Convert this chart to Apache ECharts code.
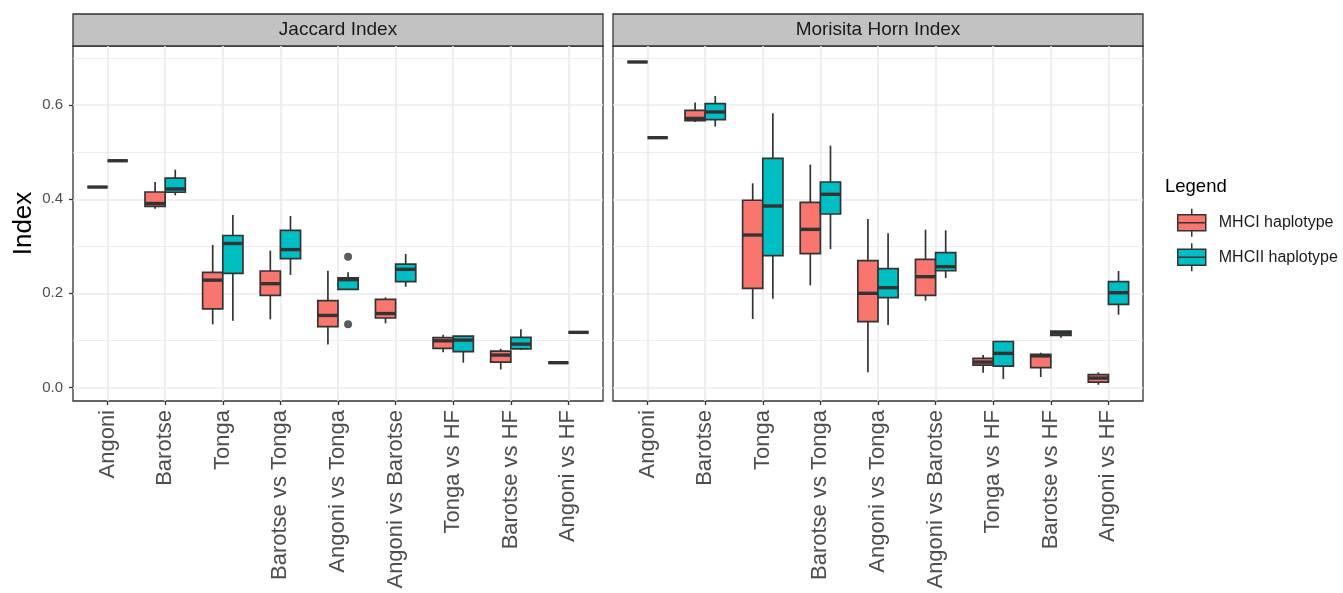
<!DOCTYPE html>
<html>
<head>
<meta charset="utf-8">
<script src="https://cdn.jsdelivr.net/npm/echarts@6/dist/echarts.min.js"></script>
<style>
html,body{margin:0;padding:0;background:#ffffff;}
#chart{width:1343px;height:593px;}
</style>
</head>
<body>
<div id="chart"></div>
<script>
// ---------------- data ----------------
const categories = ['Angoni', 'Barotse', 'Tonga', 'Barotse vs Tonga', 'Angoni vs Tonga',
  'Angoni vs Barotse', 'Tonga vs HF', 'Barotse vs HF', 'Angoni vs HF'];
const panelTitles = ['Jaccard Index', 'Morisita Horn Index'];
const seriesNames = ['MHCI haplotype', 'MHCII haplotype'];
const yTickValues = [0, 0.2, 0.4, 0.6];
const yAxisTitle = 'Index';
const legendTitle = 'Legend';

// each entry: [lower whisker, Q1, median, Q3, upper whisker]
const jaccardMHCI = [
  [0.426, 0.426, 0.426, 0.426, 0.426],
  [0.380, 0.385, 0.391, 0.4155, 0.437],
  [0.134, 0.167, 0.228, 0.2446, 0.303],
  [0.1446, 0.1957, 0.2205, 0.2475, 0.2907],
  [0.0914, 0.129, 0.153, 0.1843, 0.248],
  [0.136, 0.1475, 0.157, 0.187, 0.1915],
  [0.0745, 0.083, 0.099, 0.1056, 0.112],
  [0.038, 0.0538, 0.0687, 0.0772, 0.082],
  [0.0524, 0.0524, 0.0524, 0.0524, 0.0524]
];
const jaccardMHCII = [
  [0.482, 0.482, 0.482, 0.482, 0.482],
  [0.4085, 0.415, 0.422, 0.445, 0.463],
  [0.1418, 0.2425, 0.306, 0.323, 0.3666],
  [0.239, 0.2737, 0.293, 0.334, 0.3645],
  [0.2085, 0.2085, 0.229, 0.233, 0.2446],
  [0.214, 0.2247, 0.251, 0.2623, 0.2836],
  [0.0524, 0.0758, 0.1006, 0.109, 0.109],
  [0.0794, 0.082, 0.092, 0.1064, 0.1234],
  [0.117, 0.117, 0.117, 0.117, 0.117]
];
const morisitaMHCI = [
  [0.692, 0.692, 0.692, 0.692, 0.692],
  [0.5645, 0.567, 0.572, 0.589, 0.6056],
  [0.1453, 0.2106, 0.324, 0.398, 0.434],
  [0.217, 0.2843, 0.336, 0.3936, 0.4737],
  [0.0319, 0.1396, 0.200, 0.2694, 0.358],
  [0.1843, 0.1957, 0.2354, 0.2723, 0.3354],
  [0.031, 0.0474, 0.0538, 0.0617, 0.0687],
  [0.022, 0.0418, 0.067, 0.0702, 0.0737],
  [0.0056, 0.0113, 0.0198, 0.0269, 0.0319]
];
const morisitaMHCII = [
  [0.531, 0.531, 0.531, 0.531, 0.531],
  [0.5545, 0.5694, 0.5857, 0.6035, 0.6198],
  [0.1886, 0.280, 0.3857, 0.487, 0.583],
  [0.294, 0.3687, 0.4106, 0.4368, 0.514],
  [0.1326, 0.1907, 0.212, 0.2524, 0.3277],
  [0.2326, 0.248, 0.2567, 0.2865, 0.334],
  [0.0177, 0.0453, 0.0723, 0.0975, 0.099],
  [0.1056, 0.1106, 0.1155, 0.1198, 0.1198],
  [0.1545, 0.1766, 0.2013, 0.2247, 0.2475]
];
// outliers (Jaccard panel, MHCII haplotype)
const outlierCategories = ['Angoni vs Tonga', 'Angoni vs Tonga'];
const outlierValues = [0.278, 0.134];

const panelData = [[jaccardMHCI, jaccardMHCII], [morisitaMHCI, morisitaMHCII]];

// ---------------- styling / layout ----------------
const COLORS = ['#F8766D', '#00BFC4'];
const LINE = '#333333';
const GRIDLINE = '#EBEBEB';
const FONT = 'Liberation Sans, Arial, Helvetica, sans-serif';
const DODGE = 0.7;            // width occupied by the pair of boxes (in category units)
const BOX_W = DODGE / 2;
const PANEL_LEFT = [73, 613];
const PANEL_TOP = 46;
const PANEL_W = 530;
const PANEL_H = 355;
const Y_MIN = -0.029, Y_MAX = 0.726;
const X_MIN = -0.6, X_MAX = categories.length - 1 + 0.6;

const catIdx = categories.map((c, i) => i);

function renderBox(params, api) {
  const x = api.value(0);
  const lo = api.value(1), q1 = api.value(2), med = api.value(3), q3 = api.value(4), hi = api.value(5);
  const w = api.size([BOX_W, 0])[0];
  const pHi = api.coord([x, hi]);
  const pQ3 = api.coord([x, q3]);
  const pMed = api.coord([x, med]);
  const pQ1 = api.coord([x, q1]);
  const pLo = api.coord([x, lo]);
  const cx = pMed[0];
  const fill = api.visual('color');
  return {
    type: 'group',
    children: [
      { type: 'line', shape: { x1: cx, y1: pHi[1], x2: cx, y2: pQ3[1] }, style: { stroke: LINE, lineWidth: 1.7 } },
      { type: 'line', shape: { x1: cx, y1: pQ1[1], x2: cx, y2: pLo[1] }, style: { stroke: LINE, lineWidth: 1.7 } },
      { type: 'rect', shape: { x: cx - w / 2, y: pQ3[1], width: w, height: pQ1[1] - pQ3[1] },
        style: { fill: fill, stroke: LINE, lineWidth: 1.7 } },
      { type: 'line', shape: { x1: cx - w / 2, y1: pMed[1], x2: cx + w / 2, y2: pMed[1] },
        style: { stroke: LINE, lineWidth: 3.4 } }
    ]
  };
}

const grids = [], xAxes = [], yAxes = [], series = [], titles = [], graphics = [];

panelTitles.forEach(function (pt, p) {
  grids.push({
    left: PANEL_LEFT[p], top: PANEL_TOP, width: PANEL_W, height: PANEL_H,
    show: true, backgroundColor: '#ffffff', borderColor: LINE, borderWidth: 1.3,
    containLabel: false, outerBoundsMode: 'none'
  });
  xAxes.push({
    type: 'value', gridIndex: p, min: X_MIN, max: X_MAX, position: 'bottom',
    axisLine: { show: false, onZero: false },
    axisTick: { show: true, length: 4, customValues: catIdx, lineStyle: { color: LINE, width: 1.3 } },
    axisLabel: {
      customValues: catIdx, rotate: 90, fontSize: 22, color: '#4D4D4D', margin: 9, fontFamily: FONT,
      formatter: function (v) { return categories[Math.round(v)]; }
    },
    splitLine: { show: true, lineStyle: { color: GRIDLINE, width: 1.6 } }
  });
  yAxes.push({
    type: 'value', gridIndex: p, min: Y_MIN, max: Y_MAX, minInterval: 0.2, maxInterval: 0.2, position: 'left',
    axisLine: { show: false, onZero: false },
    axisTick: { show: p === 0, length: 4, customValues: yTickValues, lineStyle: { color: LINE, width: 1.3 } },
    axisLabel: {
      show: p === 0, customValues: yTickValues, fontSize: 15, color: '#4D4D4D', margin: 10, fontFamily: FONT,
      formatter: function (v) { return v.toFixed(1); }
    },
    splitLine: { show: true, lineStyle: { color: GRIDLINE, width: 1.6 } },
    minorTick: { show: false, splitNumber: 2 },
    minorSplitLine: { show: true, lineStyle: { color: GRIDLINE, width: 0.9 } },
    name: p === 0 ? yAxisTitle : '', nameLocation: 'middle', nameRotate: 90, nameGap: 36,
    nameTextStyle: { fontSize: 26, color: '#000000', fontFamily: FONT }
  });
  panelData[p].forEach(function (arr, s) {
    series.push({
      type: 'custom', name: seriesNames[s], xAxisIndex: p, yAxisIndex: p,
      itemStyle: { color: COLORS[s] },
      encode: { x: 0, y: [1, 2, 3, 4, 5] },
      renderItem: renderBox,
      data: arr.map(function (d, i) { return [i + (s - 0.5) * BOX_W].concat(d); }),
      z: 3
    });
  });
  graphics.push({
    type: 'rect', z: 0,
    shape: { x: PANEL_LEFT[p], y: 14, width: PANEL_W, height: PANEL_TOP - 14 },
    style: { fill: '#C2C2C2', stroke: LINE, lineWidth: 1.3 }
  });
  titles.push({
    text: pt, left: PANEL_LEFT[p] + PANEL_W / 2, top: 20.5, textAlign: 'center', padding: 0,
    textStyle: { fontSize: 19, lineHeight: 19, fontWeight: 'normal', color: '#1A1A1A', fontFamily: FONT }
  });
});

series.push({
  type: 'scatter', name: 'outliers', xAxisIndex: 0, yAxisIndex: 0,
  symbolSize: 8, itemStyle: { color: LINE }, z: 4,
  data: outlierCategories.map(function (c, k) {
    return [categories.indexOf(c) + 0.5 * BOX_W, outlierValues[k]];
  })
});

titles.push({
  text: legendTitle, left: 1165, top: 178, padding: 0,
  textStyle: { fontSize: 18.5, lineHeight: 18, fontWeight: 'normal', color: '#000000', fontFamily: FONT }
});

const option = {
  animation: false,
  backgroundColor: '#ffffff',
  textStyle: { fontFamily: FONT },
  title: titles,
  graphic: graphics,
  grid: grids,
  xAxis: xAxes,
  yAxis: yAxes,
  legend: {
    data: seriesNames, orient: 'vertical', left: 1177, top: 208, padding: 0,
    itemWidth: 28, itemHeight: 28, itemGap: 5, selectedMode: false,
    icon: 'path://M0,6 L28,6 L28,22 L0,22 Z M0,14 L28,14 M14,0 L14,6 M14,22 L14,28',
    itemStyle: { borderColor: LINE, borderWidth: 1.5 },
    textStyle: { fontSize: 16, color: '#1A1A1A', fontFamily: FONT, padding: [0, 0, 0, 8] }
  },
  series: series
};

const chart = echarts.init(document.getElementById('chart'), null, { renderer: 'canvas' });
chart.setOption(option);
</script>
</body>
</html>
